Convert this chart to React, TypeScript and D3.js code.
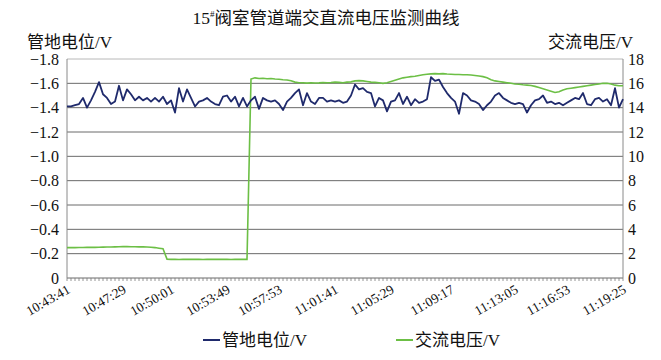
import React from "react";
import * as d3 from "d3";

// Pipe-to-soil potential (V), one value per sample
const pipePotential = [
  -1.41, -1.41, -1.42, -1.43, -1.48, -1.40, -1.46, -1.53, -1.61, -1.51,
  -1.48, -1.43, -1.45, -1.58, -1.46, -1.55, -1.51, -1.46, -1.49, -1.46,
  -1.48, -1.45, -1.48, -1.45, -1.49, -1.43, -1.46, -1.36, -1.56, -1.45,
  -1.55, -1.48, -1.41, -1.45, -1.46, -1.48, -1.45, -1.43, -1.42, -1.49,
  -1.50, -1.45, -1.49, -1.41, -1.48, -1.41, -1.46, -1.49, -1.39, -1.48,
  -1.46, -1.45, -1.46, -1.43, -1.38, -1.45, -1.48, -1.52, -1.55, -1.42,
  -1.52, -1.45, -1.43, -1.48, -1.48, -1.45, -1.46, -1.45, -1.46, -1.44,
  -1.45, -1.50, -1.59, -1.55, -1.56, -1.53, -1.52, -1.41, -1.48, -1.46,
  -1.37, -1.45, -1.46, -1.52, -1.43, -1.49, -1.42, -1.47, -1.44, -1.45,
  -1.47, -1.65, -1.62, -1.63, -1.57, -1.52, -1.48, -1.45, -1.35, -1.52,
  -1.50, -1.46, -1.45, -1.43, -1.38, -1.42, -1.45, -1.50, -1.52, -1.48,
  -1.46, -1.44, -1.43, -1.44, -1.43, -1.36, -1.42, -1.46, -1.47, -1.50,
  -1.44, -1.45, -1.43, -1.44, -1.42, -1.44, -1.46, -1.48, -1.47, -1.52,
  -1.43, -1.42, -1.47, -1.48, -1.45, -1.47, -1.42, -1.56, -1.40, -1.47,
];

// AC voltage (V), one value per sample
const acVoltage = [
  2.50, 2.50, 2.50, 2.51, 2.51, 2.52, 2.52, 2.52, 2.53, 2.54,
  2.55, 2.55, 2.56, 2.57, 2.58, 2.58, 2.57, 2.57, 2.56, 2.56,
  2.55, 2.53, 2.50, 2.45, 2.40, 1.55, 1.53, 1.53, 1.52, 1.53,
  1.53, 1.54, 1.53, 1.53, 1.52, 1.53, 1.53, 1.53, 1.54, 1.53,
  1.53, 1.52, 1.53, 1.53, 1.53, 1.53, 16.35, 16.45, 16.40, 16.42,
  16.38, 16.40, 16.35, 16.33, 16.30, 16.28, 16.22, 16.10, 16.05, 16.05,
  16.02, 16.05, 16.03, 16.04, 16.06, 16.05, 16.07, 16.10, 16.08, 16.05,
  16.10, 16.12, 16.20, 16.22, 16.20, 16.15, 16.10, 16.08, 16.05, 16.00,
  16.05, 16.15, 16.25, 16.35, 16.45, 16.50, 16.55, 16.58, 16.65, 16.70,
  16.75, 16.78, 16.80, 16.78, 16.80, 16.77, 16.75, 16.73, 16.72, 16.70,
  16.70, 16.68, 16.65, 16.60, 16.55, 16.45, 16.30, 16.20, 16.15, 16.10,
  16.05, 16.00, 15.95, 15.92, 15.88, 15.85, 15.82, 15.75, 15.65, 15.55,
  15.45, 15.35, 15.25, 15.30, 15.45, 15.55, 15.60, 15.65, 15.70, 15.75,
  15.80, 15.85, 15.90, 15.95, 16.00, 16.00, 15.95, 15.85, 15.80, 15.80,
];

const timeLabels = [
  "10:43:41", "10:47:29", "10:50:01", "10:53:49", "10:57:53", "11:01:41",
  "11:05:29", "11:09:17", "11:13:05", "11:16:53", "11:19:25",
];
const timeLabelIndex = [0, 14, 26, 40, 53, 67, 81, 96, 112, 125, 139];

const leftTicks = [0, -0.2, -0.4, -0.6, -0.8, -1.0, -1.2, -1.4, -1.6, -1.8];
const rightTicks = [0, 2, 4, 6, 8, 10, 12, 14, 16, 18];

const FONT = "'Liberation Serif', 'Times New Roman', 'Noto Sans CJK SC', serif";
const BLUE = "#1f2a6c";
const GREEN = "#6cbf45";

export default function App() {
  const W = 661;
  const H = 360;
  const left = 67;
  const right = 623;
  const top = 59;
  const bottom = 278;

  const n = pipePotential.length;
  const x = d3.scaleLinear().domain([0, n - 1]).range([left, right]);
  const yL = d3.scaleLinear().domain([0, -1.8]).range([bottom, top]);
  const yR = d3.scaleLinear().domain([0, 18]).range([bottom, top]);

  const lineL = d3
    .line<number>()
    .x((_, i) => x(i))
    .y((d) => yL(d));
  const lineR = d3
    .line<number>()
    .x((_, i) => x(i))
    .y((d) => yR(d));

  const fmtL = (v: number) => (v === 0 ? "0" : d3.format(".1f")(v));

  return (
    <svg
      width={W}
      height={H}
      style={{ position: "absolute", left: 0, top: 0, background: "#fff" }}
      fontFamily={FONT}
    >
      {/* Title */}
      <text x={326} y={24} textAnchor="middle" fontSize={17.5} fill="#111">
        <tspan>15</tspan>
        <tspan fontSize={9} dy={-7}>#</tspan>
        <tspan dy={7}>阀室管道端交直流电压监测曲线</tspan>
      </text>

      {/* Axis titles */}
      <text x={27} y={48} fontSize={17} fill="#111">管地电位/V</text>
      <text x={633} y={48} fontSize={17} fill="#111" textAnchor="end">交流电压/V</text>

      {/* Grid lines */}
      {leftTicks.map((t) => (
        <line
          key={"g" + t}
          x1={left}
          x2={right}
          y1={yL(t)}
          y2={yL(t)}
          stroke={t === -1.8 ? "#b8b8b8" : "#6a6a6a"}
          strokeWidth={1}
        />
      ))}
      {/* Vertical frame lines */}
      <line x1={left} x2={left} y1={top} y2={bottom} stroke="#8a8a8a" />
      <line x1={right} x2={right} y1={top} y2={bottom} stroke="#8a8a8a" />

      {/* Left tick labels */}
      {leftTicks.map((t) => (
        <text
          key={"l" + t}
          x={59}
          y={yL(t)}
          dy="0.35em"
          textAnchor="end"
          fontSize={16}
          fill="#111"
        >
          {fmtL(t)}
        </text>
      ))}
      {/* Right tick labels */}
      {rightTicks.map((t) => (
        <text
          key={"r" + t}
          x={628}
          y={yR(t)}
          dy="0.35em"
          textAnchor="start"
          fontSize={16}
          fill="#111"
        >
          {t}
        </text>
      ))}

      {/* Minor ticks on the x axis */}
      {d3.range(n).map((i) => (
        <line
          key={"t" + i}
          x1={x(i)}
          x2={x(i)}
          y1={bottom}
          y2={bottom + 3}
          stroke="#7a7a7a"
          strokeWidth={0.8}
        />
      ))}

      {/* X labels */}
      {timeLabels.map((lab, k) => {
        const px = x(timeLabelIndex[k]) + 4;
        const py = bottom + 14;
        return (
          <text
            key={lab}
            x={px}
            y={py}
            fontSize={13.5}
            textAnchor="end"
            fill="#111"
            transform={`rotate(-30, ${px}, ${py})`}
          >
            {lab}
          </text>
        );
      })}

      {/* Series */}
      <path d={lineR(acVoltage) || ""} fill="none" stroke={GREEN} strokeWidth={1.6} />
      <path d={lineL(pipePotential) || ""} fill="none" stroke={BLUE} strokeWidth={1.8} strokeLinejoin="round" />

      {/* Legend */}
      <line x1={203} x2={220} y1={340} y2={340} stroke={BLUE} strokeWidth={2} />
      <text x={222} y={346} fontSize={17} fill="#111">管地电位/V</text>
      <line x1={396} x2={413} y1={340} y2={340} stroke={GREEN} strokeWidth={2} />
      <text x={415} y={346} fontSize={17} fill="#111">交流电压/V</text>
    </svg>
  );
}
